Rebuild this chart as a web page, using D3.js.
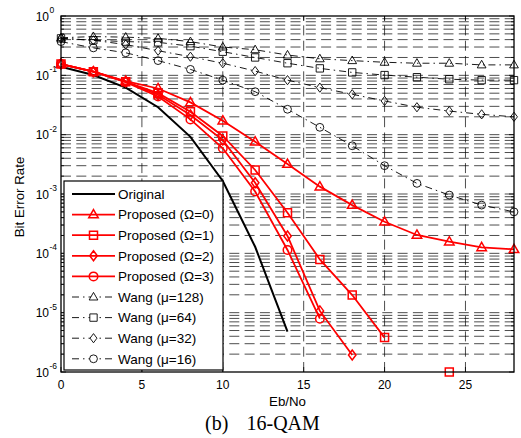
<!doctype html>
<html>
  <head>
    <style>
      body { margin: 0; background: #fff; }
      text { font-family: Arial, 'Liberation Sans', sans-serif; fill: #000; }
    </style>
  </head>
  <body>
    <svg width="521" height="438" id="content"></svg>

    <script src="https://cdn.jsdelivr.net/npm/d3@7"></script>
    <script>
      // Eb/No points (dB)
      const ebno = [0, 2, 4, 6, 8, 10, 12, 14, 16, 18, 20, 22, 24, 26, 28]
      const originalEbno = [0, 2, 4, 6, 8, 10, 12, 14]

      // BER values (null = no point)
      const original = [0.14, 0.101, 0.062, 0.029, 0.0092, 0.00166, 0.000129, 0.0000048]
      const proposed0 = [0.155, 0.115, 0.080, 0.060, 0.035, 0.0172, 0.0076, 0.0032, 0.00133, 0.00065, 0.00034, 0.000204, 0.000157, 0.000126, 0.000117]
      const proposed1 = [0.155, 0.115, 0.078, 0.050, 0.0244, 0.0095, 0.00254, 0.000484, 0.000079, 0.0000198, 0.0000038, null, 0.000001]
      const proposed2 = [0.155, 0.115, 0.078, 0.047, 0.0215, 0.0081, 0.00155, 0.000196, 0.0000107, 0.00000193]
      const proposed3 = [0.155, 0.115, 0.077, 0.044, 0.0181, 0.0059, 0.0011, 0.000114, 0.0000079]
      const wang128 = [0.43, 0.45, 0.44, 0.42, 0.37, 0.30, 0.27, 0.22, 0.19, 0.177, 0.166, 0.16, 0.16, 0.15, 0.15]
      const wang64 = [0.42, 0.39, 0.37, 0.36, 0.31, 0.25, 0.20, 0.16, 0.131, 0.112, 0.101, 0.093, 0.086, 0.083, 0.083]
      const wang32 = [0.42, 0.39, 0.33, 0.26, 0.206, 0.160, 0.118, 0.083, 0.062, 0.048, 0.037, 0.029, 0.025, 0.022, 0.020]
      const wang16 = [0.37, 0.29, 0.24, 0.177, 0.126, 0.083, 0.053, 0.0268, 0.0133, 0.0065, 0.0030, 0.00151, 0.00096, 0.00065, 0.00050]

      const xTicks = [0, 5, 10, 15, 20, 25]
      const yExponents = [0, -1, -2, -3, -4, -5, -6]

      const series = [
        { name: 'Original', xs: originalEbno, ys: original, color: '#000', marker: null, dash: null, width: 2 },
        { name: 'Proposed (\u03A9=0)', xs: ebno, ys: proposed0, color: '#f00', marker: 'tri', dash: null, width: 1.8 },
        { name: 'Proposed (\u03A9=1)', xs: ebno, ys: proposed1, color: '#f00', marker: 'sq', dash: null, width: 1.8 },
        { name: 'Proposed (\u03A9=2)', xs: ebno, ys: proposed2, color: '#f00', marker: 'dia', dash: null, width: 1.8 },
        { name: 'Proposed (\u03A9=3)', xs: ebno, ys: proposed3, color: '#f00', marker: 'cir', dash: null, width: 1.8 },
        { name: 'Wang (\u03BC=128)', xs: ebno, ys: wang128, color: '#000', marker: 'tri', dash: '7,4,1.5,4', width: 0.9 },
        { name: 'Wang (\u03BC=64)', xs: ebno, ys: wang64, color: '#000', marker: 'sq', dash: '7,4,1.5,4', width: 0.9 },
        { name: 'Wang (\u03BC=32)', xs: ebno, ys: wang32, color: '#000', marker: 'dia', dash: '7,4,1.5,4', width: 0.9 },
        { name: 'Wang (\u03BC=16)', xs: ebno, ys: wang16, color: '#000', marker: 'cir', dash: '7,4,1.5,4', width: 0.9 }
      ]

      const plotL = 61, plotR = 514, plotT = 16, plotB = 372
      const x = d3.scaleLinear().domain([0, 28]).range([plotL, plotR])
      const y = d3.scaleLog().domain([1e-6, 1]).range([plotB, plotT])

      const svg = d3.select('#content')
      svg.append('rect').attr('width', 521).attr('height', 438).attr('fill', '#fff')

      // grid: every minor decade step horizontally, major x ticks vertically
      const grid = svg.append('g')
        .attr('stroke', '#000')
        .attr('stroke-width', 0.7)
        .attr('stroke-dasharray', '10,5.3')
      grid.selectAll('.hg')
        .data(y.ticks().filter(v => v > 1e-6 && v < 1))
        .enter().append('line')
        .attr('x1', plotL).attr('x2', plotR)
        .attr('y1', d => y(d)).attr('y2', d => y(d))
      grid.selectAll('.vg')
        .data(xTicks.filter(v => v > 0))
        .enter().append('line')
        .attr('x1', d => x(d)).attr('x2', d => x(d))
        .attr('y1', plotB).attr('y2', plotT)

      // tick marks (inside, all four sides)
      const ticks = svg.append('g').attr('stroke', '#000').attr('stroke-width', 0.8)
      y.ticks().forEach(v => {
        const major = Math.abs(Math.log10(v) - Math.round(Math.log10(v))) < 1e-9
        const len = major ? 5 : 3
        ticks.append('line').attr('x1', plotL).attr('x2', plotL + len).attr('y1', y(v)).attr('y2', y(v))
        ticks.append('line').attr('x1', plotR).attr('x2', plotR - len).attr('y1', y(v)).attr('y2', y(v))
      })
      xTicks.forEach(v => {
        ticks.append('line').attr('x1', x(v)).attr('x2', x(v)).attr('y1', plotB).attr('y2', plotB - 5)
        ticks.append('line').attr('x1', x(v)).attr('x2', x(v)).attr('y1', plotT).attr('y2', plotT + 5)
      })

      function markerPath (type, s) {
        if (type === 'tri') return `M0,${-s} L${s * 0.95},${s * 0.65} L${-s * 0.95},${s * 0.65}Z`
        if (type === 'sq') return `M${-s * 0.8},${-s * 0.8}h${s * 1.6}v${s * 1.6}h${-s * 1.6}Z`
        if (type === 'dia') return `M0,${-s} L${s * 0.75},0 L0,${s} L${-s * 0.75},0Z`
        const r = s * 0.85
        return `M${-r},0 a${r},${r} 0 1,0 ${2 * r},0 a${r},${r} 0 1,0 ${-2 * r},0Z`
      }

      const line = d3.line()
        .defined(d => d[1] != null)
        .x(d => x(d[0]))
        .y(d => y(d[1]))

      // draw Wang curves first, then original, then proposed
      const drawOrder = [5, 6, 7, 8, 0, 1, 2, 3, 4]
      drawOrder.forEach(i => {
        const s = series[i]
        const pts = s.ys.map((v, j) => [s.xs[j], v])
        svg.append('path')
          .attr('d', line(pts))
          .attr('fill', 'none')
          .attr('stroke', s.color)
          .attr('stroke-width', s.width)
          .attr('stroke-dasharray', s.dash)
        if (s.marker) {
          const size = s.color === '#f00' ? 5 : 4.6
          svg.append('g').selectAll('path')
            .data(pts.filter(d => d[1] != null))
            .enter().append('path')
            .attr('transform', d => `translate(${x(d[0])},${y(d[1])})`)
            .attr('d', markerPath(s.marker, size))
            .attr('fill', 'none')
            .attr('stroke', s.color)
            .attr('stroke-width', s.color === '#f00' ? 1.5 : 0.9)
        }
      })

      // axes box
      svg.append('rect')
        .attr('x', plotL).attr('y', plotT)
        .attr('width', plotR - plotL).attr('height', plotB - plotT)
        .attr('fill', 'none').attr('stroke', '#000').attr('stroke-width', 1.3)

      // y tick labels 10^k
      yExponents.forEach(k => {
        svg.append('text')
          .attr('x', 49).attr('y', y(Math.pow(10, k)) + 4.5)
          .attr('text-anchor', 'end').style('font-size', '12px')
          .text('10')
        svg.append('text')
          .attr('x', 49.5).attr('y', y(Math.pow(10, k)) - 3)
          .style('font-size', '8.5px')
          .text(k === 0 ? '0' : '-' + Math.abs(k))
      })

      // x tick labels
      svg.selectAll('.xl')
        .data(xTicks)
        .enter().append('text')
        .attr('x', d => x(d)).attr('y', 388.5)
        .attr('text-anchor', 'middle').style('font-size', '12px')
        .text(d => d)

      svg.append('text')
        .attr('x', (plotL + plotR) / 2).attr('y', 406)
        .attr('text-anchor', 'middle').style('font-size', '13.3px')
        .text('Eb/No')

      svg.append('text')
        .attr('transform', 'translate(23.5,197) rotate(-90)')
        .attr('text-anchor', 'middle').style('font-size', '13.3px')
        .text('Bit Error Rate')

      // legend
      const legend = svg.append('g')
      legend.append('rect')
        .attr('x', 64).attr('y', 181).attr('width', 159).attr('height', 189)
        .attr('fill', '#fff').attr('stroke', '#000').attr('stroke-width', 1.2)
      series.forEach((s, i) => {
        const ly = 194 + i * 20.6
        legend.append('line')
          .attr('x1', 72).attr('x2', 115).attr('y1', ly).attr('y2', ly)
          .attr('stroke', s.color).attr('stroke-width', s.width)
          .attr('stroke-dasharray', s.dash)
        if (s.marker) {
          legend.append('path')
            .attr('transform', `translate(93.5,${ly})`)
            .attr('d', markerPath(s.marker, s.color === '#f00' ? 5 : 4.6))
            .attr('fill', s.color === '#f00' ? 'none' : '#fff')
            .attr('stroke', s.color)
            .attr('stroke-width', s.color === '#f00' ? 1.5 : 0.9)
        }
        legend.append('text')
          .attr('x', 118).attr('y', ly + 4.7)
          .style('font-size', '13.5px')
          .text(s.name)
      })

      // caption
      const cap = svg.append('text')
        .attr('y', 430)
        .style('font-family', "'Liberation Serif', 'Times New Roman', serif")
        .style('font-size', '20px')
      cap.append('tspan').attr('x', 205).text('(b)')
      cap.append('tspan').attr('x', 246.5).text('16-QAM')
    </script>
  </body>
</html>
